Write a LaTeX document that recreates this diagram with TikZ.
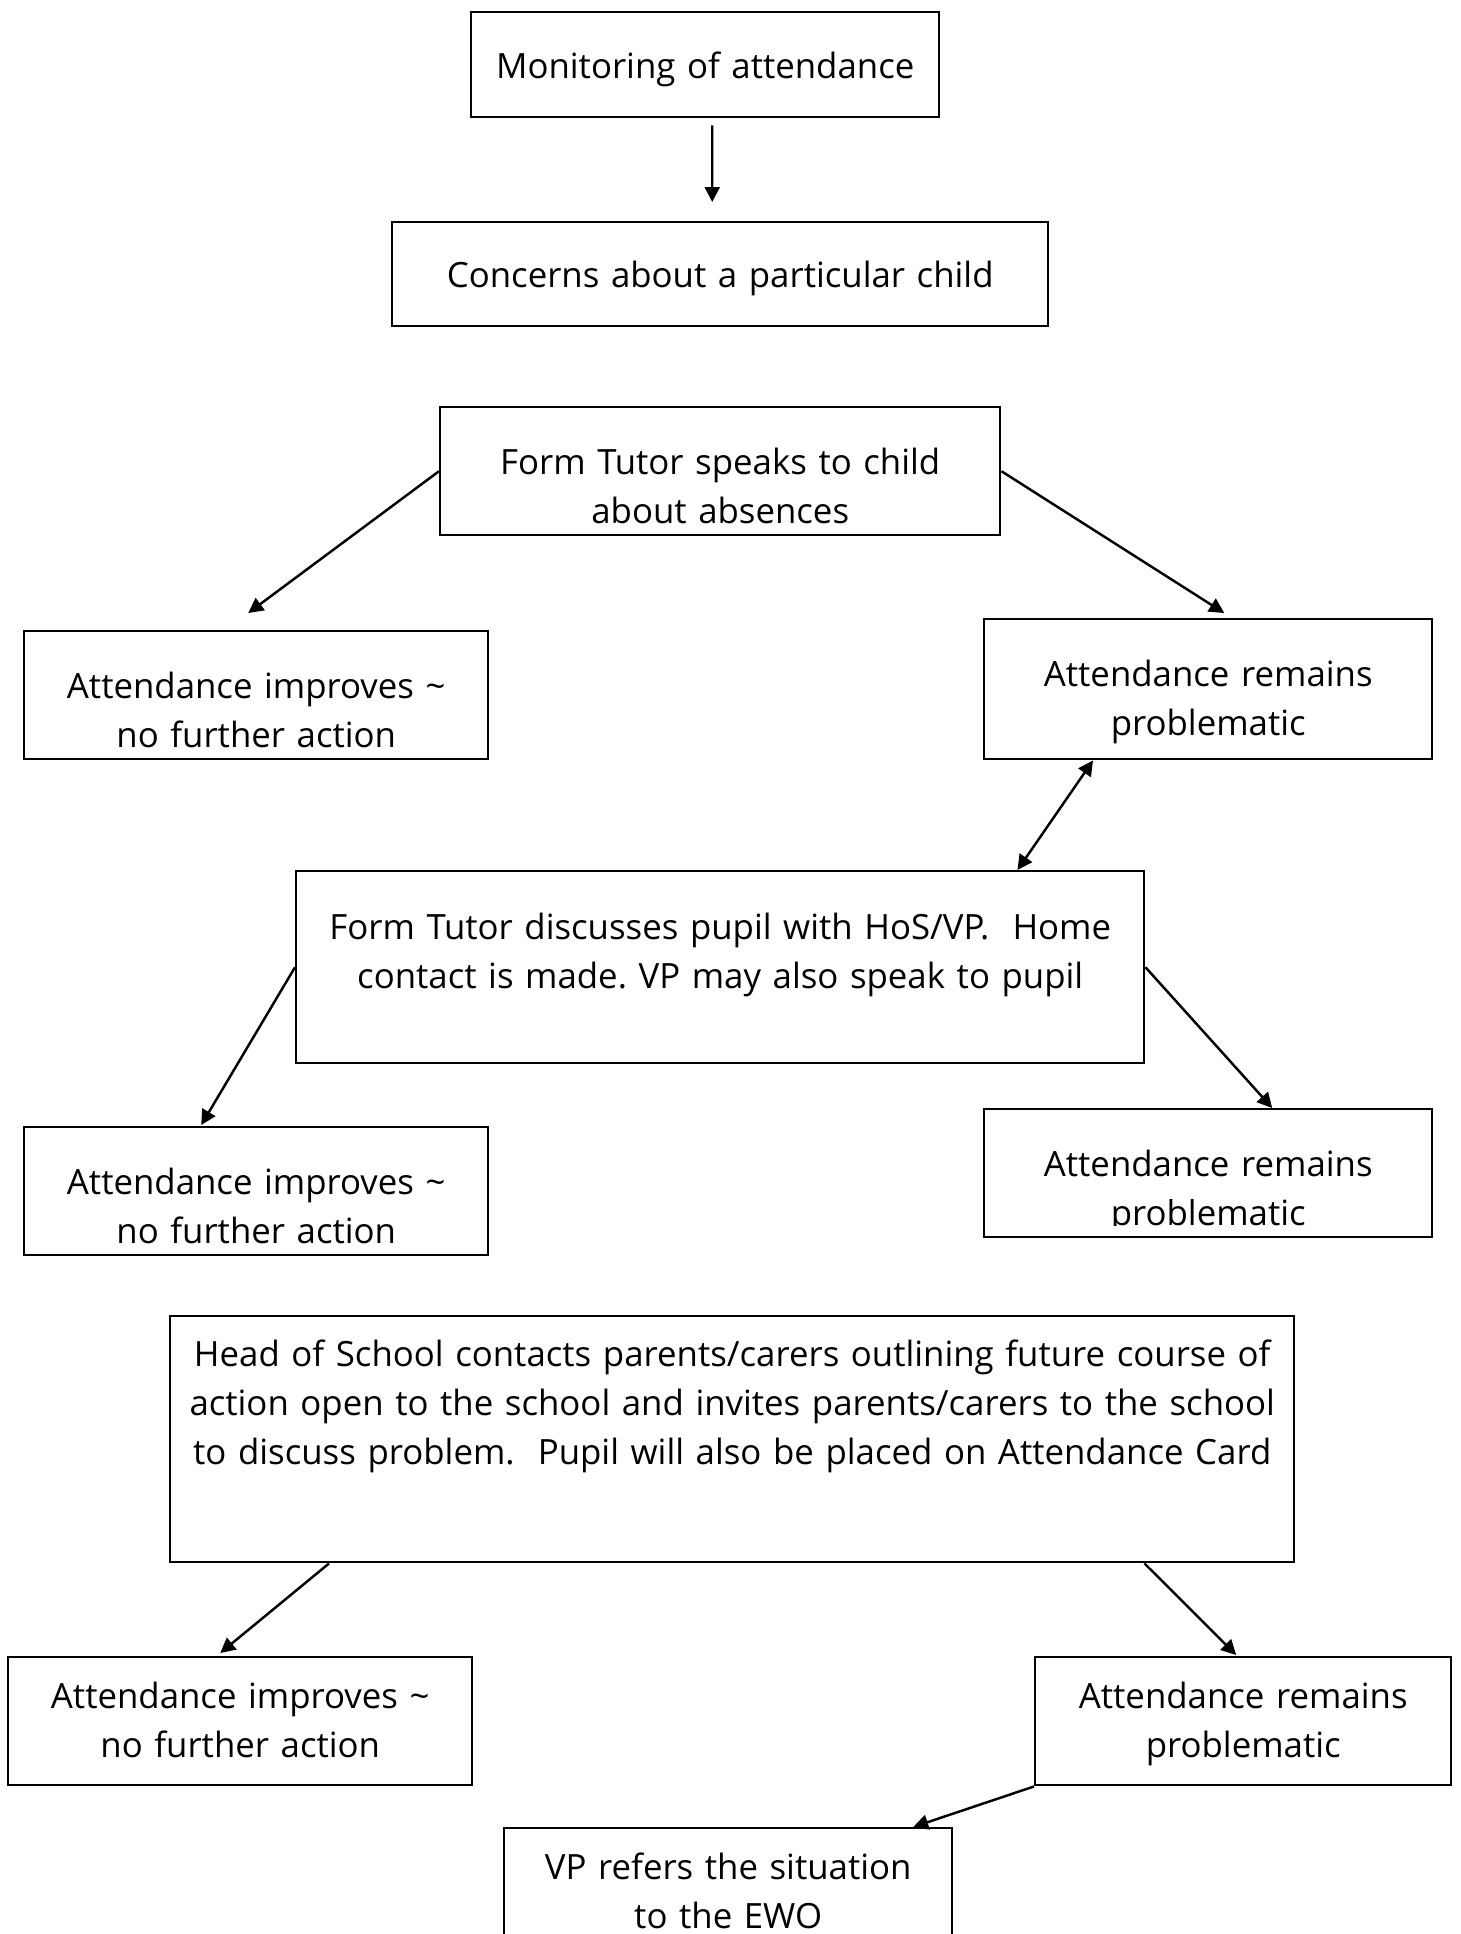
\documentclass[tikz,border=0pt]{standalone}
\usepackage{fontspec}
\setmainfont{Open Sans}
\usepackage{trimclip}
\usetikzlibrary{arrows.meta,calc}
\frenchspacing

\begin{document}
\begin{tikzpicture}[x=1cm,y=1cm,
  box/.style={draw,line width=0.7pt,inner sep=0pt,align=center,anchor=north west,font=\fontsize{9.9pt}{14pt}\selectfont},
  arr/.style={line width=0.7pt,-{Triangle[length=1.5mm,width=1.5mm]}},
  arrr/.style={line width=0.7pt,{Triangle[length=1.5mm,width=1.5mm]}-{Triangle[length=1.5mm,width=1.5mm]}}]
\useasboundingbox (0,0) rectangle (14.61,-19.34);
\node[box,text width=4.68cm,text height=0.66cm,text depth=0.39cm] (mon) at (4.70,-0.11) {Monitoring of attendance};
\node[box,text width=6.56cm,text height=0.65cm,text depth=0.39cm] (conc) at (3.91,-2.21) {Concerns about a particular child};
\node[box,text width=5.60cm,text height=0.67cm,text depth=0.61cm] (speak) at (4.39,-4.06) {Form Tutor speaks to child\\about absences};
\node[box,text width=4.64cm,text height=0.67cm,text depth=0.61cm] (imp1) at (0.23,-6.30) {Attendance improves \textasciitilde\\no further action};
\node[box,text width=4.48cm,text height=0.67cm,text depth=0.73cm] (rem1) at (9.83,-6.18) {Attendance remains\\problematic};
\node[box,text width=8.48cm,text height=0.68cm,text depth=1.24cm] (disc) at (2.95,-8.70) {Form Tutor discusses pupil with HoS/VP.~~Home\\contact is made. VP may also speak to pupil};
\node[box,text width=4.64cm,text height=0.67cm,text depth=0.61cm] (imp2) at (0.23,-11.26) {Attendance improves \textasciitilde\\no further action};
\node[box,text width=4.48cm,text height=0.67cm,text depth=0.61cm] (rem2) at (9.83,-11.08) {Attendance remains\\\clipbox{0pt {\depth} 0pt 0pt}{problematic}};
\node[box,text width=11.24cm,text height=0.50cm,text depth=1.96cm] (hos) at (1.69,-13.15) {Head of School contacts parents/carers outlining future course of\\action open to the school and invites parents/carers to the school\\to discuss problem.~~Pupil will also be placed on Attendance Card};
\node[box,text width=4.64cm,text height=0.51cm,text depth=0.77cm] (imp3) at (0.07,-16.56) {Attendance improves \textasciitilde\\no further action};
\node[box,text width=4.16cm,text height=0.51cm,text depth=0.77cm] (rem3) at (10.34,-16.56) {Attendance remains\\problematic};
\node[box,text width=4.48cm,text height=0.51cm,text depth=0.82cm] (ewo) at (5.03,-18.27) {VP refers the situation\\to the EWO};
\draw[arr] ($(mon.south)+(0.07,-0.07)$) -- ($(conc.north)+(-0.08,0.19)$);
\draw[arr] (speak.west) -- ($(imp1.north)+(-0.08,0.17)$);
\draw[arr] (speak.east) -- ($(rem1.north)+(0.16,0.05)$);
\draw[arrr] ($(rem1.south west)+(1.10,0)$) -- ($(disc.north east)+(-1.28,0)$);
\draw[arr] (disc.west) -- ($(imp2.north)+(-0.55,0.01)$);
\draw[arr] (disc.east) -- ($(rem2.north)+(0.64,0)$);
\draw[arr] ($(hos.south west)+(1.60,0)$) -- ($(imp3.north)+(-0.20,0.03)$);
\draw[arr] ($(hos.south east)+(-1.51,0)$) -- ($(rem3.north)+(-0.07,0.01)$);
\draw[arr] (rem3.south west) -- ($(ewo.north)+(1.85,0)$);
\end{tikzpicture}
\end{document}
